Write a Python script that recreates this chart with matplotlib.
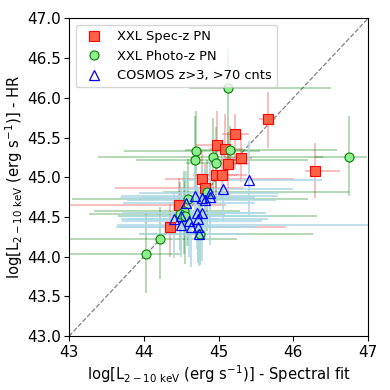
import matplotlib.pyplot as plt
import numpy as np

# XXL spectroscopic-z PN sources
spec_x = [45.66, 45.22, 44.98, 45.08, 45.30, 45.12, 44.96, 45.05, 44.78, 44.82, 44.47, 44.35, 46.29]
spec_y = [45.73, 45.55, 45.41, 45.35, 45.24, 45.17, 45.03, 45.03, 44.98, 44.87, 44.65, 44.38, 45.08]
spec_xlo = [0.12, 0.18, 0.28, 0.20, 0.20, 0.25, 0.30, 0.35, 0.50, 1.20, 1.60, 0.17, 0.14]
spec_xhi = [0.11, 0.18, 0.17, 0.25, 0.15, 0.30, 0.30, 0.33, 1.23, 0.50, 0.63, 1.55, 0.33]
spec_ylo = [0.36, 0.44, 0.30, 0.35, 0.30, 0.35, 0.35, 0.30, 0.30, 0.35, 0.25, 0.38, 0.34]
spec_yhi = [0.34, 0.25, 0.43, 0.45, 0.30, 0.40, 0.30, 0.40, 0.35, 0.30, 0.34, 0.29, 0.35]

# XXL photometric-z PN sources
phot_x = [45.12, 44.70, 44.69, 44.92, 44.97, 45.15, 46.75, 44.85, 44.59, 44.54, 44.49, 44.55, 44.21, 44.03, 44.75]
phot_y = [46.12, 45.33, 45.22, 45.25, 45.18, 45.34, 45.26, 44.82, 44.73, 44.58, 44.54, 44.51, 44.22, 44.04, 44.29]
phot_xlo = [0.52, 0.96, 0.80, 1.53, 0.40, 0.60, 0.46, 0.60, 1.55, 1.20, 1.22, 0.90, 1.30, 1.20, 0.80]
phot_xhi = [1.38, 0.85, 1.50, 1.47, 0.35, 1.43, 0.23, 1.90, 1.60, 0.75, 0.60, 1.76, 1.03, 0.48, 1.51]
phot_ylo = [1.00, 0.60, 0.40, 0.45, 0.40, 0.25, 0.50, 0.50, 0.60, 0.55, 0.45, 0.60, 0.50, 0.50, 0.40]
phot_yhi = [0.50, 0.50, 0.55, 0.50, 0.45, 0.30, 0.51, 0.40, 0.50, 0.50, 0.40, 0.45, 0.40, 0.50, 0.50]

# COSMOS z>3 sources with >70 counts
cos_x = [45.41, 45.06, 44.69, 44.78, 44.88, 44.89, 44.82, 44.57, 44.71, 44.78,
         44.50, 44.40, 44.72, 44.61, 44.50, 44.63, 44.72, 44.74]
cos_y = [44.97, 44.85, 44.76, 44.74, 44.80, 44.75, 44.71, 44.68, 44.55, 44.55,
         44.51, 44.48, 44.48, 44.45, 44.40, 44.37, 44.37, 44.28]
cos_xlo = [0.90, 0.60, 1.00, 1.10, 0.95, 0.90, 1.05, 0.85, 1.00, 0.90,
           0.80, 0.70, 0.95, 0.90, 0.86, 1.00, 1.05, 0.80]
cos_xhi = [0.97, 0.94, 1.10, 0.70, 0.93, 0.60, 0.95, 0.92, 0.90, 0.85,
           1.18, 0.60, 0.94, 0.97, 2.60, 0.70, 0.80, 0.60]
cos_ylo = [0.45, 0.40, 0.55, 0.50, 0.45, 0.60, 0.50, 0.55, 0.45, 0.60,
           0.45, 0.50, 0.55, 0.45, 0.40, 0.50, 0.45, 0.40]
cos_yhi = [0.48, 0.45, 0.45, 0.40, 0.45, 0.40, 0.40, 0.40, 0.35, 0.40,
           0.35, 0.35, 0.40, 0.35, 0.30, 0.35, 0.30, 0.30]

fig = plt.figure(figsize=(3.9, 3.9), dpi=100)
ax = fig.add_axes([0.177, 0.138, 0.767, 0.815])

ax.plot([43, 47], [43, 47], ls='--', color='gray', lw=0.9, zorder=1)

ax.errorbar(spec_x, spec_y, xerr=[spec_xlo, spec_xhi], yerr=[spec_ylo, spec_yhi],
            fmt='none', ecolor='lightcoral', alpha=0.6, elinewidth=1.2, zorder=2)
ax.errorbar(phot_x, phot_y, xerr=[phot_xlo, phot_xhi], yerr=[phot_ylo, phot_yhi],
            fmt='none', ecolor='green', alpha=0.35, elinewidth=1.2, zorder=2)
ax.errorbar(cos_x, cos_y, xerr=[cos_xlo, cos_xhi], yerr=[cos_ylo, cos_yhi],
            fmt='none', ecolor='lightblue', alpha=0.85, elinewidth=1.3, zorder=2)

ax.plot(spec_x, spec_y, 's', ms=6.5, mfc='tomato', mec='red', mew=0.8,
        ls='none', label='XXL Spec-z PN', zorder=3)
ax.plot(phot_x, phot_y, 'o', ms=6.5, mfc='lightgreen', mec='green', mew=0.8,
        ls='none', label='XXL Photo-z PN', zorder=3)
ax.plot(cos_x, cos_y, '^', ms=6.5, mfc='none', mec='blue', mew=0.9,
        ls='none', label='COSMOS z>3, >70 cnts', zorder=4)

ax.set_xlim(43, 47)
ax.set_ylim(43, 47)
ax.set_xticks([43, 44, 45, 46, 47])
ax.set_yticks(np.arange(43, 47.01, 0.5))
ax.tick_params(labelsize=11, pad=2.5)
ax.set_xlabel(r'log[L$_{2-10\ \rm keV}$ (erg s$^{-1}$)] - Spectral fit', fontsize=10.6, labelpad=3)
ax.set_ylabel(r'log[L$_{2-10\ \rm keV}$ (erg s$^{-1}$)] - HR', fontsize=10.6, labelpad=1.5)
ax.legend(loc='upper left', fontsize=9.4, numpoints=1)

fig.savefig('out.png', dpi=100)
